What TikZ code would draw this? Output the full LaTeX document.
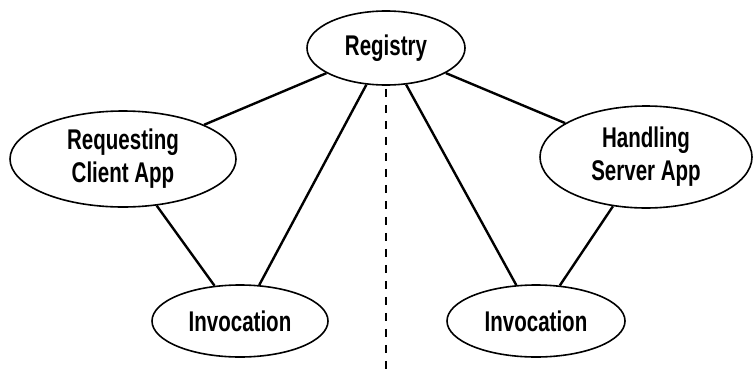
\documentclass[tikz,border=0pt]{standalone}
\usepackage{fontspec}
\newfontfamily\labelfont{Liberation Sans}[FakeStretch=0.72]
\usetikzlibrary{shapes.geometric}

\begin{document}
\begin{tikzpicture}[x=1pt,y=-1pt,
  oval/.style={draw,ellipse,line width=1.6pt,inner sep=0pt,align=center,
    font=\labelfont\bfseries\fontsize{28.5}{33}\selectfont},
  link/.style={line width=2.4pt}]
\useasboundingbox (0,0) rectangle (754,375);
% the five parties
\node[oval,minimum width=158pt,minimum height=74pt] (reg) at (386,48) {Registry};
\node[oval,minimum width=226pt,minimum height=96pt] (client) at (123,159) {Requesting\\Client App};
\node[oval,minimum width=212pt,minimum height=102pt] (server) at (646,157) {Handling\\Server App};
\node[oval,minimum width=176pt,minimum height=72pt] (invl) at (240,321) {Invocation};
\node[oval,minimum width=178pt,minimum height=72pt] (invr) at (536,321) {Invocation};
% links
\draw[link] (reg) -- (client);
\draw[link] (reg) -- (server);
\draw[link] (reg) -- (invl);
\draw[link] (reg) -- (invr);
\draw[link] (client) -- (invl);
\draw[link] (server) -- (invr);
% split between the two sides
\coordinate (base) at (386,375);
\draw[line width=2.4pt,dash pattern=on 8pt off 8pt] ([yshift=-3pt]reg.south) -- (base);
\end{tikzpicture}
\end{document}
